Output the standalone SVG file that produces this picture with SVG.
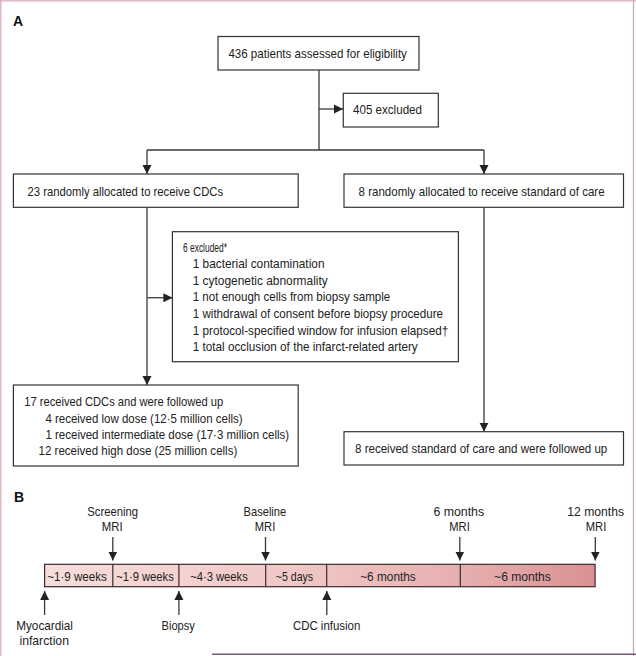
<svg xmlns="http://www.w3.org/2000/svg" width="636" height="656" viewBox="0 0 636 656">
<defs>
<style>
text{font-family:"Liberation Sans",Arial,sans-serif;font-size:13px;fill:#222}
.c{text-anchor:middle}
.h{font-size:14px;font-weight:bold;fill:#111}
.box{fill:#fff;stroke:#333;stroke-width:1.2}
.ln{fill:none;stroke:#3a3a3a;stroke-width:1.3}
.ar{fill:none;stroke:#3a3a3a;stroke-width:1.3;marker-end:url(#ah)}
.div{stroke:#3b2b2b;stroke-width:1.2}
</style>
<marker id="ah" viewBox="0 0 10 10" refX="10" refY="5" markerWidth="9" markerHeight="10" orient="auto" markerUnits="userSpaceOnUse">
<path d="M0,0 L10,5 L0,10 z" fill="#222"/>
</marker>
<linearGradient id="bar" gradientUnits="userSpaceOnUse" x1="44.6" y1="0" x2="595" y2="0">
<stop offset="0" stop-color="#f7dedb"/>
<stop offset="0.45" stop-color="#f0c8c6"/>
<stop offset="0.75" stop-color="#e7b0b0"/>
<stop offset="1" stop-color="#da9193"/>
</linearGradient>
</defs>
<rect width="636" height="656" fill="#fff"/>
<g id="frame">
<line x1="0" y1="0.8" x2="636" y2="0.8" stroke="#d9a6bd" stroke-width="1.2"/>
<line x1="0.8" y1="0" x2="0.8" y2="656" stroke="#d9a6bd" stroke-width="1.2"/>
<line x1="633.5" y1="0" x2="633.5" y2="656" stroke="#c9a3b8" stroke-width="1.2"/>
<line x1="212" y1="654.3" x2="636" y2="654.3" stroke="#7b5877" stroke-width="1.5"/>
</g>
<text class="h" x="13" y="26">A</text>
<text class="h" x="14" y="501.7">B</text>
<g id="connectors">
<path class="ln" d="M319,70 V150 M147,150 H484"/>
<path class="ar" d="M319,109 H343"/>
<path class="ar" d="M147,150 V174"/>
<path class="ar" d="M484,150 V174"/>
<path class="ar" d="M147,207.3 V385"/>
<path class="ar" d="M147,297.7 H172.4"/>
<path class="ar" d="M484,207.3 V431.7"/>
</g>
<g id="n436">
<rect class="box" x="218" y="36.5" width="201" height="33.5"/>
<text x="228.4" y="57.5" textLength="178.5" lengthAdjust="spacingAndGlyphs">436 patients assessed for eligibility</text>
</g>
<g id="n405">
<rect class="box" x="343.3" y="93.3" width="95" height="33.7"/>
<text x="353" y="113.8" textLength="69" lengthAdjust="spacingAndGlyphs">405 excluded</text>
</g>
<g id="n23">
<rect class="box" x="13.4" y="174" width="284.8" height="33.3"/>
<text x="27.6" y="196.2" textLength="195.5" lengthAdjust="spacingAndGlyphs">23 randomly allocated to receive CDCs</text>
</g>
<g id="n8">
<rect class="box" x="344" y="174" width="279.5" height="33.3"/>
<text x="358.6" y="196.2" textLength="246" lengthAdjust="spacingAndGlyphs">8 randomly allocated to receive standard of care</text>
</g>
<g id="n6">
<rect class="box" x="172.4" y="231.7" width="286" height="130"/>
<text x="183" y="251.8" textLength="44" lengthAdjust="spacingAndGlyphs">6 excluded*</text>
<text x="192.7" y="267.8" textLength="131.8" lengthAdjust="spacingAndGlyphs">1 bacterial contamination</text>
<text x="192.7" y="284.8" textLength="135" lengthAdjust="spacingAndGlyphs">1 cytogenetic abnormality</text>
<text x="192.7" y="301.2" textLength="197.6" lengthAdjust="spacingAndGlyphs">1 not enough cells from biopsy sample</text>
<text x="192.7" y="317.8" textLength="250.3" lengthAdjust="spacingAndGlyphs">1 withdrawal of consent before biopsy procedure</text>
<text x="192.7" y="334.5" textLength="255.6" lengthAdjust="spacingAndGlyphs">1 protocol-specified window for infusion elapsed†</text>
<text x="192.7" y="351.2" textLength="225" lengthAdjust="spacingAndGlyphs">1 total occlusion of the infarct-related artery</text>
</g>
<g id="n17">
<rect class="box" x="13.4" y="385" width="284.8" height="81"/>
<text x="24.3" y="406.2" textLength="198.8" lengthAdjust="spacingAndGlyphs">17 received CDCs and were followed up</text>
<text x="45.4" y="422.8" textLength="197.2" lengthAdjust="spacingAndGlyphs">4 received low dose (12·5 million cells)</text>
<text x="45.4" y="438.8" textLength="243.8" lengthAdjust="spacingAndGlyphs">1 received intermediate dose (17·3 million cells)</text>
<text x="38.5" y="454.5" textLength="198.8" lengthAdjust="spacingAndGlyphs">12 received high dose (25 million cells)</text>
</g>
<g id="n8f">
<rect class="box" x="344" y="431.7" width="279.5" height="33.3"/>
<text x="355" y="452.8" style="font-size:12px" textLength="252.3" lengthAdjust="spacingAndGlyphs">8 received standard of care and were followed up</text>
</g>
<g id="timeline">
<rect x="44.6" y="564.3" width="550.5" height="22.4" fill="url(#bar)" stroke="#3b2b2b" stroke-width="1.2"/>
<line class="div" x1="112.8" y1="564.3" x2="112.8" y2="586.7"/>
<line class="div" x1="178.9" y1="564.3" x2="178.9" y2="586.7"/>
<line class="div" x1="265.7" y1="564.3" x2="265.7" y2="586.7"/>
<line class="div" x1="326.7" y1="564.3" x2="326.7" y2="586.7"/>
<line class="div" x1="460.3" y1="564.3" x2="460.3" y2="586.7"/>
<text class="c" x="77" y="580.5" textLength="59.6" lengthAdjust="spacingAndGlyphs">~1·9 weeks</text>
<text class="c" x="145" y="580.5" textLength="57.6" lengthAdjust="spacingAndGlyphs">~1·9 weeks</text>
<text class="c" x="219" y="580.5" textLength="57.6" lengthAdjust="spacingAndGlyphs">~4·3 weeks</text>
<text class="c" x="294.5" y="580.5" textLength="37.3" lengthAdjust="spacingAndGlyphs">~5 days</text>
<text class="c" x="388" y="580.5" textLength="55.6" lengthAdjust="spacingAndGlyphs">~6 months</text>
<text class="c" x="522.5" y="580.5" textLength="56.8" lengthAdjust="spacingAndGlyphs">~6 months</text>
</g>
<g id="tl-arrows">
<path class="ar" d="M112.8,537 V560.5"/>
<path class="ar" d="M265.5,537 V560.5"/>
<path class="ar" d="M459.8,537 V560.5"/>
<path class="ar" d="M595.3,537 V560.5"/>
<path class="ar" d="M44.6,615 V591"/>
<path class="ar" d="M178.9,615 V591"/>
<path class="ar" d="M326.8,615 V591"/>
</g>
<g id="screening">
<text class="c" x="112.6" y="516.2" textLength="50.7" lengthAdjust="spacingAndGlyphs">Screening</text>
<text class="c" x="112.3" y="531.2" textLength="21" lengthAdjust="spacingAndGlyphs">MRI</text>
</g>
<g id="baseline">
<text class="c" x="264.9" y="516.2" textLength="42.6" lengthAdjust="spacingAndGlyphs">Baseline</text>
<text class="c" x="265" y="531.2" textLength="20.5" lengthAdjust="spacingAndGlyphs">MRI</text>
</g>
<g id="m6">
<text class="c" x="458.8" y="516.2" textLength="50.7" lengthAdjust="spacingAndGlyphs">6 months</text>
<text class="c" x="459.5" y="531.2" textLength="20.5" lengthAdjust="spacingAndGlyphs">MRI</text>
</g>
<g id="m12">
<text class="c" x="595.7" y="516.2" textLength="56.8" lengthAdjust="spacingAndGlyphs">12 months</text>
<text class="c" x="596" y="531.2" textLength="20.5" lengthAdjust="spacingAndGlyphs">MRI</text>
</g>
<g id="mi">
<text class="c" x="44.6" y="629.5" textLength="56.8" lengthAdjust="spacingAndGlyphs">Myocardial</text>
<text class="c" x="44.2" y="645.2" textLength="49.5" lengthAdjust="spacingAndGlyphs">infarction</text>
</g>
<g id="biopsy">
<text class="c" x="178.2" y="629.5" textLength="33.3" lengthAdjust="spacingAndGlyphs">Biopsy</text>
</g>
<g id="cdc">
<text class="c" x="326.6" y="629.5" textLength="67.3" lengthAdjust="spacingAndGlyphs">CDC infusion</text>
</g>
</svg>
